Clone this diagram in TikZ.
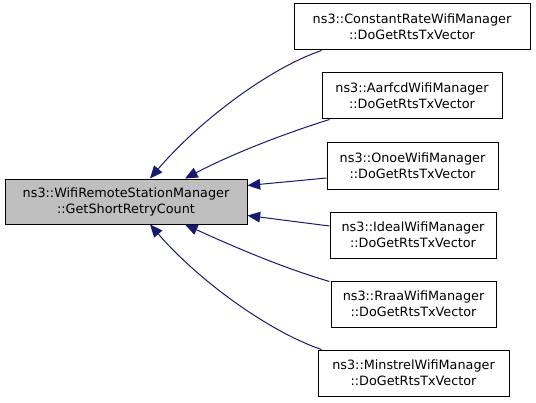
\documentclass[tikz,border=0pt]{standalone}
\usepackage{fontspec}
\setmainfont{DejaVu Sans}
\usetikzlibrary{arrows.meta,calc}
\definecolor{edgecol}{HTML}{191970}
\definecolor{mainfill}{HTML}{BFBFBF}
\begin{document}
\begin{tikzpicture}[x=0.75pt,y=-0.75pt,
  box/.style={draw=black,line width=0.75pt,fill=white,inner sep=0pt,align=center,font=\fontsize{9.6}{12}\selectfont},
  edge/.style={draw=edgecol,line width=0.75pt,-{Triangle[length=9.5pt,width=8pt]},shorten >=0pt}]
\useasboundingbox (0,0) rectangle (536,403);
\node[box,fill=mainfill,minimum width=242*0.75pt,minimum height=45*0.75pt] (m) at (126,201.5) {ns3::WifiRemoteStationManager\\::GetShortRetryCount};
\node[box,minimum width=236*0.75pt,minimum height=46*0.75pt] (a) at (412,27) {ns3::ConstantRateWifiManager\\::DoGetRtsTxVector};
\node[box,minimum width=180*0.75pt,minimum height=46*0.75pt] (b) at (412,96) {ns3::AarfcdWifiManager\\::DoGetRtsTxVector};
\node[box,minimum width=171*0.75pt,minimum height=46*0.75pt] (c) at (412.5,166) {ns3::OnoeWifiManager\\::DoGetRtsTxVector};
\node[box,minimum width=166*0.75pt,minimum height=46*0.75pt] (d) at (413,235) {ns3::IdealWifiManager\\::DoGetRtsTxVector};
\node[box,minimum width=165*0.75pt,minimum height=46*0.75pt] (e) at (413.5,304) {ns3::RraaWifiManager\\::DoGetRtsTxVector};
\node[box,minimum width=191*0.75pt,minimum height=46*0.75pt] (f) at (413.5,373) {ns3::MinstrelWifiManager\\::DoGetRtsTxVector};
\draw[edge] ($(a.south west)+(28,0)$) .. controls (270,68) and (200,120) .. ($(m.north)+(24,0)$);
\draw[edge] ($(b.south west)+(8,0)$) .. controls (280,135) and (230,155) .. ($(m.north)+(59,0)$);
\draw[edge] ($(c.west)+(0,12)$) -- ($(m.east)+(0,-16)$);
\draw[edge] ($(d.west)+(0,-9)$) -- ($(m.east)+(0,14)$);
\draw[edge] ($(e.north west)+(-1,1)$) .. controls (280,267) and (230,245) .. ($(m.south)+(59,0)$);
\draw[edge] ($(f.north west)+(4,0)$) .. controls (270,332) and (200,282) .. ($(m.south)+(24,0)$);
\end{tikzpicture}
\end{document}
